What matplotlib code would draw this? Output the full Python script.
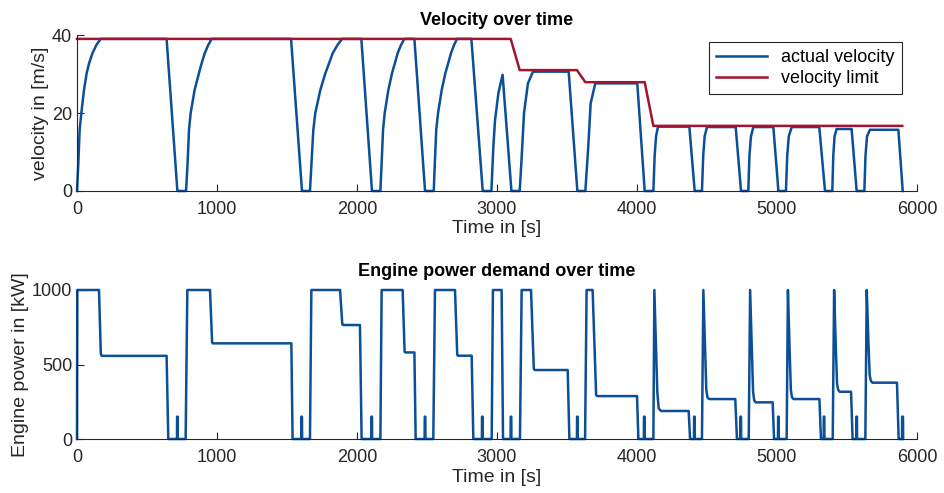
import numpy as np
import matplotlib.pyplot as plt

# velocity profile: time [s], velocity [m/s]
vel_t = [0, 9.5, 19, 31, 50, 69, 86, 110, 138, 169, 640, 717,
         779, 790, 800, 812, 840, 871, 890, 912, 937, 962,
         1529, 1607, 1664, 1675, 1688, 1702, 1738, 1774, 1800, 1826, 1860, 1893,
         2031, 2107, 2167, 2176, 2186, 2198, 2224, 2250, 2270, 2290, 2314, 2338,
         2410, 2486, 2548, 2556, 2566, 2579, 2605, 2631, 2651, 2671, 2693, 2714,
         2817, 2898, 2960, 2974, 2986, 3010, 3040, 3103,
         3162, 3174, 3193, 3221, 3257, 3512, 3574,
         3631, 3652, 3669, 3702, 4002, 4055,
         4117, 4126, 4136, 4150, 4374, 4412,
         4464, 4473, 4483, 4500, 4705, 4743,
         4795, 4803, 4814, 4831, 4974, 5010,
         5064, 5073, 5084, 5105, 5302, 5343,
         5395, 5402, 5411, 5426, 5533, 5569,
         5624, 5632, 5643, 5664, 5867, 5898]
vel_v = [0, 7.2, 15.7, 20, 25.9, 30.2, 32.7, 35.3, 37.4, 39, 39, 0,
         0, 7.2, 15.7, 20, 25.9, 30.2, 32.7, 35.3, 37.4, 39,
         39, 0, 0, 7.2, 15.7, 20, 25.9, 30.2, 32.7, 35.3, 37.4, 39,
         39, 0, 0, 7.2, 15.7, 20, 25.9, 30.2, 32.7, 35.3, 37.4, 39,
         39, 0, 0, 7.2, 15.7, 20, 25.9, 30.2, 32.7, 35.3, 37.4, 39,
         39, 0, 0, 11.4, 18.2, 25.1, 29.8, 0,
         0, 7.2, 20, 27.6, 30.6, 30.6, 0,
         0, 11.4, 22.5, 27.6, 27.6, 0,
         0, 9, 14, 16.5, 16.5, 0,
         0, 9, 14, 16.4, 16.4, 0,
         0, 9, 14, 16.4, 16.4, 0,
         0, 9, 14, 16.4, 16.4, 0,
         0, 9, 14, 15.9, 15.9, 0,
         0, 9, 14, 15.7, 15.7, 0]

# velocity limit
lim_t = [0, 3098, 3162, 3571, 3631, 4055, 4117, 5895]
lim_v = [39, 39, 31.0, 31.0, 27.9, 27.9, 16.7, 16.7]

# engine power demand: time [s], power [kW]
pow_t = [0, 2, 157, 170, 176, 640, 652, 714, 715, 719, 720, 776, 788,
         950, 965, 970, 1531, 1540, 1602, 1603, 1607, 1608, 1664, 1674,
         1879, 1895, 1900, 2021, 2033, 2102, 2103, 2107, 2108, 2167, 2176,
         2326, 2340, 2345, 2410, 2419, 2483, 2484, 2488, 2489, 2545, 2557,
         2700, 2716, 2721, 2819, 2831, 2892, 2893, 2897, 2898, 2962, 2971,
         3033, 3043, 3097, 3098, 3102, 3103, 3164, 3176,
         3243, 3263, 3270, 3505, 3517, 3571, 3572, 3576, 3577, 3629, 3640,
         3683, 3708, 3716, 4000, 4010, 4049, 4050, 4054, 4055, 4117, 4124,
         4136, 4145, 4155, 4171, 4369, 4379, 4407, 4408, 4412, 4413, 4464, 4474,
         4486, 4495, 4503, 4515, 4702, 4714, 4738, 4739, 4743, 4744, 4798, 4808,
         4820, 4829, 4837, 4848, 4969, 4979, 5007, 5008, 5012, 5013, 5069, 5078,
         5090, 5099, 5107, 5118, 5303, 5314, 5333, 5334, 5338, 5339, 5398, 5408,
         5420, 5429, 5437, 5448, 5529, 5540, 5566, 5567, 5571, 5572, 5631, 5641,
         5653, 5662, 5670, 5682, 5857, 5869, 5893, 5894, 5900, 5901]
pow_kw = [0, 1000, 1000, 575, 558, 558, 0, 0, 150, 150, 0, 0, 1000,
          1000, 650, 642, 642, 0, 0, 150, 150, 0, 0, 1000,
          1000, 770, 765, 765, 0, 0, 150, 150, 0, 0, 1000,
          1000, 585, 581, 581, 0, 0, 150, 150, 0, 0, 1000,
          1000, 565, 559, 559, 0, 0, 150, 150, 0, 0, 1000,
          1000, 0, 0, 150, 150, 0, 0, 1000,
          1000, 470, 463, 463, 0, 0, 150, 150, 0, 0, 1000,
          1000, 295, 288, 288, 0, 0, 150, 150, 0, 0, 1000,
          608, 317, 205, 188, 188, 0, 0, 150, 150, 0, 0, 1000,
          608, 330, 280, 268, 268, 0, 0, 150, 150, 0, 0, 1000,
          600, 320, 260, 246, 246, 0, 0, 150, 150, 0, 0, 1000,
          600, 330, 280, 268, 268, 0, 0, 150, 150, 0, 0, 1000,
          620, 370, 330, 317, 317, 0, 0, 150, 150, 0, 0, 1000,
          650, 430, 390, 378, 378, 0, 0, 150, 150, 0]

blue = '#0a4f97'
red = '#a2142f'
dark = '#262626'

plt.rcParams['font.family'] = ['Liberation Sans', 'DejaVu Sans']
plt.rcParams['font.size'] = 13


def style(ax):
    for s in ['top', 'right']:
        ax.spines[s].set_visible(False)
    for s in ['left', 'bottom']:
        ax.spines[s].set_color(dark)
        ax.spines[s].set_linewidth(0.8)
    ax.tick_params(direction='in', length=5, color=dark, labelcolor=dark,
                   labelsize=13)
    ax.tick_params(axis='x', pad=7)
    ax.set_xlim(0, 6000)
    ax.set_xticks([0, 1000, 2000, 3000, 4000, 5000, 6000])


fig = plt.figure(figsize=(9.45, 4.93), dpi=100)
ax1 = fig.add_axes([77 / 945, 1 - 191 / 493, 840 / 945, 156 / 493])
ax2 = fig.add_axes([77 / 945, 1 - 439 / 493, 840 / 945, 149 / 493])

ax1.plot(vel_t, vel_v, color=blue, lw=1.8, label='actual velocity', clip_on=False)
ax1.plot(lim_t, lim_v, color=red, lw=1.8, label='velocity limit', clip_on=False)
style(ax1)
ax1.set_ylim(0, 40)
ax1.set_yticks([0, 20, 40])
ax1.set_xlabel('Time in [s]', fontsize=14, color=dark, labelpad=2)
ax1.set_ylabel('velocity in [m/s]', fontsize=14, color=dark, labelpad=2)
ax1.set_title('Velocity over time', fontsize=13, fontweight='bold', pad=7)
leg = ax1.legend(loc='upper right', bbox_to_anchor=(0.982, 0.955),
                 borderaxespad=0, fancybox=False, framealpha=1,
                 edgecolor=dark, fontsize=13, handlelength=2.8,
                 borderpad=0.4, labelspacing=0.2)
leg.get_frame().set_linewidth(0.8)

ax2.plot(pow_t, pow_kw, color=blue, lw=1.8, clip_on=False)
style(ax2)
ax2.set_ylim(0, 1000)
ax2.set_yticks([0, 500, 1000])
ax2.set_xlabel('Time in [s]', fontsize=14, color=dark, labelpad=2)
ax2.set_ylabel('Engine power in [kW]', fontsize=14, color=dark, labelpad=2)
ax2.set_title('Engine power demand over time', fontsize=13, fontweight='bold',
              pad=10)

fig.savefig('out.png', dpi=100)
